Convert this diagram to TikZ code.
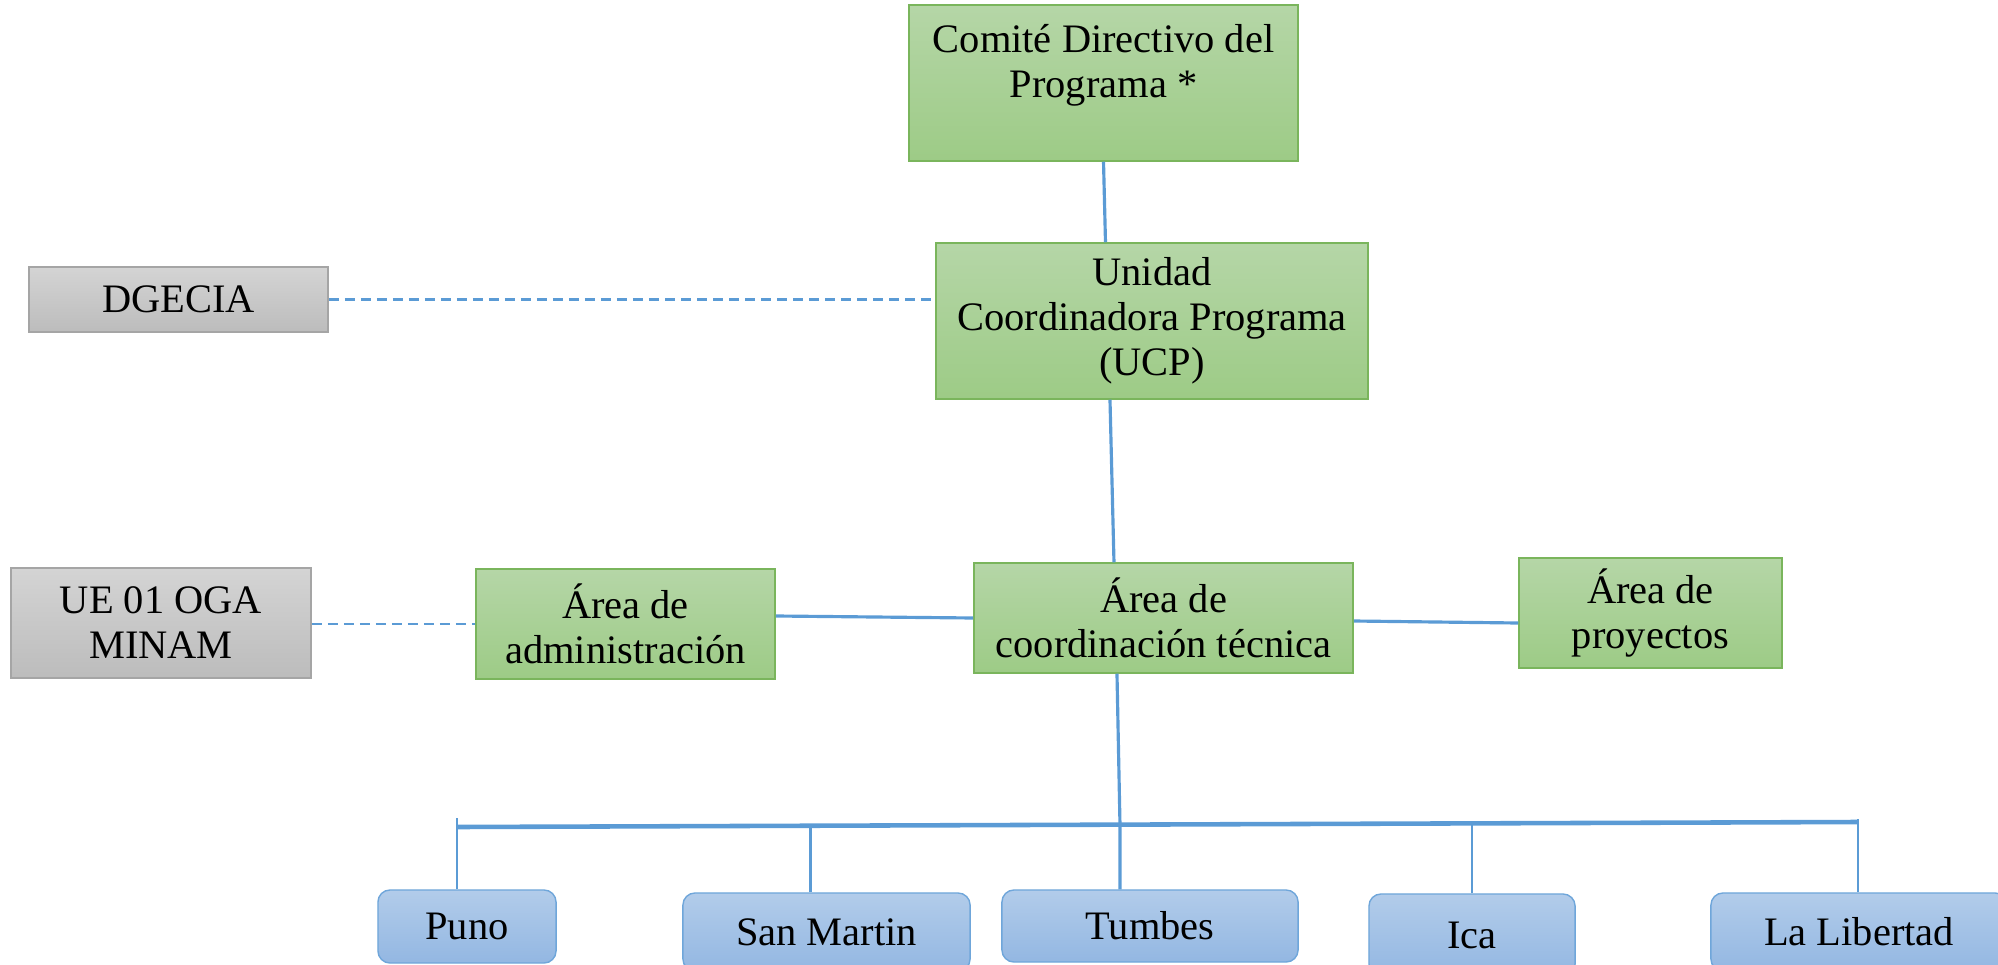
\documentclass[tikz,border=0pt]{standalone}
\usepackage{fontspec}
\setmainfont{Liberation Serif}
\usetikzlibrary{positioning}

\definecolor{verdearriba}{HTML}{B5D6A7}
\definecolor{verdeabajo}{HTML}{9DCB86}
\definecolor{verdeborde}{HTML}{7AB55C}
\definecolor{grisarriba}{HTML}{D4D4D4}
\definecolor{grisabajo}{HTML}{BCBCBC}
\definecolor{grisborde}{HTML}{A5A5A5}
\definecolor{azularriba}{HTML}{B2CCEA}
\definecolor{azulabajo}{HTML}{93B7E2}
\definecolor{azulborde}{HTML}{6FA6DA}
\definecolor{linea}{HTML}{5B9BD5}

\tikzset{
  caja/.style={rectangle, align=center, inner sep=0pt,
    font=\fontsize{11.5}{12.8}\selectfont},
  unidad/.style={caja, draw=verdeborde, top color=verdearriba, bottom color=verdeabajo},
  externo/.style={caja, draw=grisborde, top color=grisarriba, bottom color=grisabajo},
  region/.style={caja, draw=azulborde, top color=azularriba, bottom color=azulabajo,
    rounded corners=0.12cm},
  enlace/.style={draw=linea, line width=0.9pt},
  tenue/.style={draw=linea, line width=0.6pt},
  barra/.style={draw=linea, line width=1.3pt},
  punteado/.style={draw=linea, line width=0.6pt, dash pattern=on 0.1cm off 0.06cm}
}

\begin{document}
\begin{tikzpicture}[x=0.01cm, y=-0.01cm]
  \useasboundingbox (0,0) rectangle (1998,964);

  \node[unidad, minimum width=3.89cm, minimum height=1.56cm] (comite) at (1103.5,83)
    {Comité Directivo del\\Programa *\\\mbox{}};
  \node[unidad, minimum width=4.32cm, minimum height=1.56cm] (ucp) at (1152,321)
    {Unidad\\Coordinadora Programa\\(UCP)};
  \node[externo, minimum width=2.99cm, minimum height=0.65cm] (dgecia) at (178.5,299.5) {DGECIA};

  \node[unidad, minimum width=3.79cm, minimum height=1.10cm] (coord) at (1163.5,618)
    {Área de\\coordinación técnica};
  \node[unidad, minimum width=2.99cm, minimum height=1.10cm] (adm) at (625.5,624)
    {Área de\\administración};
  \node[unidad, minimum width=2.63cm, minimum height=1.10cm] (proy) at (1650.5,613)
    {Área de\\proyectos};
  \node[externo, minimum width=3.00cm, minimum height=1.10cm] (ue) at (161,623)
    {UE 01 OGA\\MINAM};

  \node[region, minimum width=1.78cm, minimum height=0.73cm] (puno) at (467,926.5) {Puno};
  \node[region, minimum width=2.87cm, minimum height=0.78cm] (sanmartin) at (826.5,932) {San Martin};
  \node[region, minimum width=2.96cm, minimum height=0.72cm] (tumbes) at (1150,926) {Tumbes};
  \node[region, minimum width=2.06cm, minimum height=0.82cm] (ica) at (1472,935) {Ica};
  \node[region, minimum width=2.96cm, minimum height=0.78cm] (libertad) at (1859,932) {La Libertad};

  \coordinate (bus) at (1120,826);

  \draw[enlace] (comite.south) -- ([xshift=-0.465cm]ucp.north);
  \draw[enlace] ([xshift=-0.42cm]ucp.south) -- ([xshift=-0.495cm]coord.north);
  \draw[enlace] ([xshift=-0.465cm]coord.south) -- (bus) -- (tumbes.north -| bus);
  \draw[enlace] ([yshift=0.08cm]adm.east) -- (coord.west);
  \draw[enlace] ([yshift=-0.03cm]coord.east) -- ([yshift=-0.1cm]proy.west);
  \draw[punteado] (dgecia.east) -- (dgecia.east -| ucp.west);
  \draw[punteado] (adm.west -| ue.east) -- (adm.west);

  \draw[barra] ([xshift=-0.1cm]puno.north |- 0,827) -- ([xshift=-0.01cm]libertad.north |- 0,822);
  \draw[tenue] ([xshift=-0.1cm]puno.north) -- ([xshift=-0.1cm]puno.north |- 0,818);
  \draw[tenue] ([xshift=-0.16cm]sanmartin.north) -- ([xshift=-0.16cm]sanmartin.north |- 0,826);
  \draw[tenue] (ica.north) -- (ica.north |- 0,824);
  \draw[tenue] ([xshift=-0.01cm]libertad.north) -- ([xshift=-0.01cm]libertad.north |- 0,819);

\end{tikzpicture}
\end{document}
